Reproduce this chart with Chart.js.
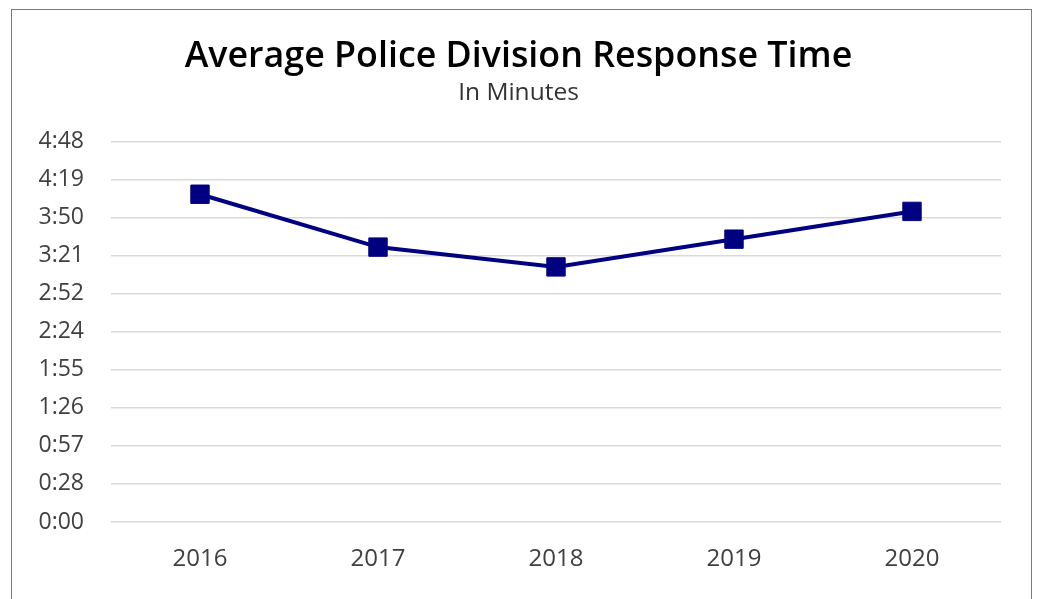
<!DOCTYPE html>
<html>
<head>
<meta charset="utf-8">
<title>Average Police Division Response Time</title>
<script src="https://cdn.jsdelivr.net/npm/chart.js@4"></script>
<style>
  html, body { margin: 0; padding: 0; background: #fff; }
  #wrap { position: relative; width: 1037px; height: 599px; }
  #frame {
    position: absolute; left: 11px; top: 9px; width: 1019px; height: 600px;
    border: 1px solid #7a7a7a; pointer-events: none;
  }
</style>
</head>
<body>
<div id="wrap">
  <canvas id="responseChart" width="1037" height="599"></canvas>
  <div id="frame"></div>
</div>
<script>
// yearly averages, in seconds
const years = ['2016', '2017', '2018', '2019', '2020'];
const responseSeconds = [248, 208, 193, 214, 235];

// axis runs 0:00 .. 4:48 in 10 steps
const axisMax = 288;
const axisStep = 28.8;

const fontFamily = "'Open Sans', 'Noto Sans', sans-serif";

function toMinSec(value) {
    let v = Math.round(value * 10) / 10;
    let mins = Math.floor(v / 60);
    let secs = Math.floor(v - mins * 60);
    return mins + ':' + (secs < 10 ? '0' : '') + secs;
}

const ctx = document.getElementById('responseChart').getContext('2d');
const responseChart = new Chart(ctx, {
    type: 'line',
    data: {
        labels: years,
        datasets: [{
            data: responseSeconds,
            borderColor: '#000080',
            backgroundColor: '#000080',
            borderWidth: 4,
            pointStyle: 'rect',
            pointRadius: 13,
            pointBorderWidth: 1,
            pointBackgroundColor: '#000080',
            pointBorderColor: '#000080',
            tension: 0,
            fill: false,
        }],
    },
    options: {
        responsive: false,
        animation: false,
        layout: {
            padding: { left: 36, right: 36, top: 14, bottom: 0 }
        },
        scales: {
            x: {
                offset: true,
                afterFit: (scale) => { scale.height = 77; },
                grid: { display: false },
                border: { display: false },
                ticks: {
                    color: '#404040',
                    padding: 15,
                    maxRotation: 0,
                    font: { family: fontFamily, size: 24 }
                }
            },
            y: {
                min: 0,
                max: axisMax,
                afterFit: (scale) => { scale.width = 75; },
                afterBuildTicks: (scale) => {
                    let ticks = [];
                    for (let i = 0; i <= 10; i++) {
                        ticks.push({ value: Math.round(i * axisStep * 10) / 10 });
                    }
                    scale.ticks = ticks;
                },
                grid: { color: '#d9d9d9', lineWidth: 1.5, drawTicks: false },
                border: { display: false },
                ticks: {
                    color: '#404040',
                    padding: 27,
                    font: { family: fontFamily, size: 23 },
                    callback: (value) => toMinSec(value)
                }
            }
        },
        plugins: {
            legend: {
                display: false
            },
            tooltip: { enabled: false },
            title: {
                display: true,
                text: 'Average Police Division Response Time',
                color: '#000',
                padding: { top: 21, bottom: 0 },
                font: { family: fontFamily, size: 35.8, weight: '600' }
            },
            subtitle: {
                display: true,
                text: 'In Minutes',
                color: '#333',
                padding: { top: 0, bottom: 34 },
                font: { family: fontFamily, size: 24.5, weight: 'normal' }
            }
        }
    }
});
</script>
</body>
</html>
